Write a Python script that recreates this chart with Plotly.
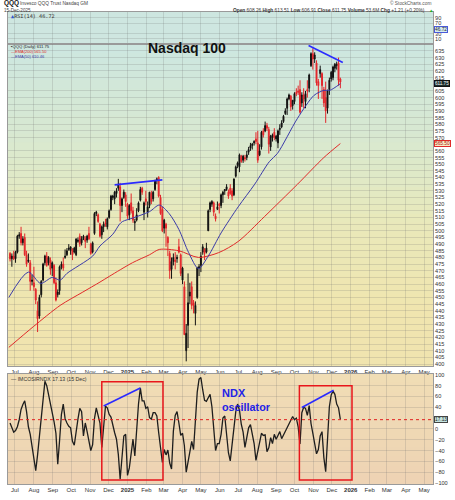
import plotly.graph_objects as go
import pandas as pd

# ---------------- data ----------------
# one bar per 3 calendar days, ending 2025-12-15
OPEN = [483, 479, 481,
        479, 484, 496, 498, 491, 495, 482, 477, 476, 462,
        461, 456, 440, 436, 452, 463, 476, 481, 476, 478, 472,
        474, 461, 452, 455, 473, 475, 480, 482, 486, 485,
        486, 484, 482, 492, 496, 491, 494, 494, 493, 498,
        490, 484, 498, 513, 512, 505, 497, 503, 506, 503,
        510, 516, 525, 524, 528, 532, 533, 519, 525, 527,
        520, 512, 521, 515, 506, 508, 515, 523, 532, 514, 524,
        514, 519, 528, 524, 531, 538, 540, 525, 516,
        502, 505, 495, 483, 471, 477, 478, 479, 488, 482,
        463, 458, 410, 429, 451, 458, 446, 438, 450, 472,
        474, 484, 486, 484, 500, 516, 520, 521, 511, 516, 520,
        519, 527, 530, 531, 529, 532, 530, 527, 541, 549,
        548, 556, 553, 555, 555, 559, 562, 564, 566, 569,
        566, 557, 563, 575, 575, 579, 576, 563, 570, 574,
        569, 566, 576, 578, 582, 588, 592, 599, 601, 594,
        597, 604, 605, 606, 596, 602, 597, 606, 607, 624, 633,
        629, 626, 612, 618, 618, 606, 600, 592, 606, 614,
        615, 622, 624, 626, 614]
HIGH = [484, 483, 485,
        485, 497, 499, 503, 496, 498, 485, 483, 478, 467,
        473, 457, 447, 452, 463, 476, 482, 484, 481, 480, 477,
        475, 465, 456, 474, 477, 480, 486, 487, 490, 488,
        487, 488, 494, 495, 498, 496, 497, 496, 497, 503,
        491, 492, 514, 515, 513, 506, 504, 507, 509, 510,
        516, 527, 527, 530, 532, 539, 536, 525, 531, 529,
        521, 520, 528, 518, 509, 517, 522, 533, 533, 522, 530,
        522, 529, 530, 530, 538, 540, 541, 527, 518,
        509, 506, 496, 485, 480, 483, 484, 482, 494, 483,
        473, 462, 430, 468, 461, 462, 448, 447, 473, 475,
        484, 490, 487, 491, 516, 522, 523, 522, 513, 522, 521,
        528, 530, 531, 535, 531, 535, 532, 539, 549, 552,
        558, 557, 557, 557, 560, 563, 566, 566, 568, 574,
        575, 565, 575, 577, 582, 581, 578, 572, 573, 577,
        572, 576, 580, 583, 587, 592, 600, 603, 602, 598,
        604, 607, 609, 613, 604, 607, 605, 613, 618, 634, 637,
        634, 628, 614, 624, 619, 608, 612, 606, 615, 620,
        624, 626, 627, 630, 615]
LOW = [477, 473, 478,
       476, 483, 494, 489, 489, 481, 473, 476, 455, 459,
       455, 445, 424, 434, 450, 462, 474, 473, 474, 467, 466,
       460, 447, 450, 452, 471, 470, 479, 481, 485, 482,
       478, 483, 481, 491, 488, 489, 493, 487, 491, 493,
       482, 483, 497, 511, 506, 495, 494, 499, 503, 501,
       509, 515, 523, 520, 525, 530, 507, 514, 524, 518,
       509, 508, 513, 506, 500, 507, 514, 522, 527, 508, 519,
       510, 517, 520, 522, 530, 535, 525, 512, 499,
       498, 488, 481, 464, 464, 474, 471, 476, 483, 466,
       460, 422, 402, 412, 445, 441, 438, 429, 449, 466,
       469, 482, 478, 483, 500, 514, 518, 511, 507, 516, 513,
       517, 521, 527, 530, 524, 527, 523, 526, 540, 547,
       544, 551, 551, 552, 553, 557, 560, 561, 564, 565,
       551, 556, 561, 570, 574, 575, 558, 560, 567, 568,
       567, 562, 572, 577, 581, 587, 587, 598, 590, 591,
       595, 601, 602, 588, 593, 592, 592, 600, 604, 623, 621,
       626, 609, 599, 615, 599, 593, 581, 588, 602, 612,
       613, 619, 621, 609, 607]
CLOSE = [479, 481, 479,
         484, 496, 497, 491, 494, 482, 475, 478, 462, 463,
         458, 448, 434, 450, 462, 475, 481, 474, 480, 471, 476,
         461, 448, 454, 473, 475, 472, 481, 485, 487, 488,
         482, 487, 494, 493, 490, 494, 496, 492, 496, 494,
         483, 491, 513, 514, 507, 496, 503, 505, 505, 509,
         515, 526, 526, 529, 530, 535, 519, 524, 529, 522,
         511, 519, 515, 508, 507, 512, 521, 531, 529, 521, 522,
         518, 529, 522, 529, 538, 539, 526, 513, 500,
         508, 502, 491, 470, 477, 480, 477, 480, 484, 468,
         472, 422, 423, 446, 454, 444, 444, 444, 472, 473,
         481, 488, 483, 487, 515, 521, 522, 514, 509, 518, 519,
         527, 529, 531, 533, 526, 528, 526, 539, 548, 551,
         557, 552, 556, 554, 557, 561, 564, 565, 567, 567,
         553, 560, 574, 572, 579, 577, 565, 571, 572, 570,
         571, 575, 577, 581, 586, 590, 599, 602, 593, 598,
         603, 603, 604, 589, 602, 599, 603, 605, 617, 633, 629,
         632, 611, 609, 621, 609, 596, 590, 605, 613, 619,
         623, 625, 625, 613, 611.75]
OSC = [11, 4, -6,
       -3, 4, 17, 36, 45, 52, 32, 4, -10, -33,
       -50, -77, -48, -14, 17, 47, 88, 80, 63, 47, 35,
       13, -8, -65, -21, 27, 46, 19, 11, 5, 2,
       -23, -30, -1, 18, 38, 32, -13, 11, -5, -23,
       -40, -29, 19, 39, 25, 11, -34, 11, 42, 39,
       27, 22, 5, -7, -19, -47, -93, -55, -13, -10,
       -86, -72, -44, -19, -50, 8, 46, 76, 52, 52, 38,
       41, 21, 18, 30, 30, 24, -7, -34, -62,
       -38, -48, -39, -63, -74, -4, 25, 32, 11, -12,
       -8, -31, -80, -62, -42, -23, -38, 11, 68, 92,
       95, 72, 53, 51, 58, 64, 41, -4, -40, -27, -27,
       -10, 20, 24, -15, -44, -59, -29, 7, 32, 46,
       35, 9, -6, -34, -12, 2, 8, -7, -27, -58,
       -42, -20, -8, -12, -11, -42, -35, -16, -27, -10,
       -19, -12, -5, -18, -11, -4, 3, 10, 16, 23,
       17, 20, 4, -28, 30, 40, 38, 25, 43, 10, -8,
       -30, -46, -38, -13, -5, -53, -79, -11, 41, 63,
       70, 64, 46, 39, 17.13]

EMA50_DATES = ["2024-06-21", "2024-07-23", "2024-08-12", "2024-08-31", "2024-09-13",
               "2024-09-24", "2024-11-05", "2024-11-17", "2024-12-08", "2024-12-19",
               "2024-12-24", "2025-01-09", "2025-02-06", "2025-02-22", "2025-03-10",
               "2025-03-26", "2025-04-11", "2025-04-27", "2025-05-13", "2025-06-03",
               "2025-07-01", "2025-07-28", "2025-08-21", "2025-09-03", "2025-10-06",
               "2025-11-02", "2025-11-18", "2025-11-28", "2025-12-15"]
EMA50_VALUES = [450, 469, 460.5, 465, 463, 468, 481, 488.6, 497.4, 505, 507, 509.5,
                514.4, 519.3, 513, 501, 483.6, 471.6, 481, 498.4, 518, 535, 552, 558,
                584.5, 601.7, 605.4, 605.5, 610.46]
EMA200_DATES = ["2024-06-21", "2024-07-31", "2024-09-13", "2024-10-20", "2024-11-17",
                "2024-12-03", "2025-01-09", "2025-02-06", "2025-02-22", "2025-03-26",
                "2025-04-27", "2025-05-30", "2025-07-01", "2025-08-13", "2025-10-06",
                "2025-11-18", "2025-12-15"]
EMA200_VALUES = [412.5, 428, 444, 454, 461.5, 466, 476, 482, 486, 485, 480, 483.6,
                 492, 510.7, 535, 555, 565.5]

MONTH_TICKS = ["2024-07-01", "2024-08-01", "2024-09-01", "2024-10-01", "2024-11-01",
               "2024-12-01", "2025-01-01", "2025-02-01", "2025-03-01", "2025-04-01",
               "2025-05-01", "2025-06-01", "2025-07-01", "2025-08-01", "2025-09-01",
               "2025-10-01", "2025-11-01", "2025-12-01", "2026-01-01", "2026-02-01",
               "2026-03-01", "2026-04-01", "2026-05-01"]
MONTH_LABELS = ["Jul", "Aug", "Sep", "Oct", "Nov", "Dec", "<b>2025</b>", "Feb", "Mar",
                "Apr", "May", "Jun", "Jul", "Aug", "Sep", "Oct", "Nov", "Dec",
                "<b>2026</b>", "Feb", "Mar", "Apr", "May"]
PRICE_TICKS = [400, 405, 410, 415, 420, 425, 430, 435, 440, 445, 450, 455, 460, 465,
               470, 475, 480, 485, 490, 495, 500, 505, 510, 515, 520, 525, 530, 535,
               540, 545, 550, 555, 560, 570, 575, 580, 585, 590, 595, 600, 605,
               615, 620, 625, 630, 635]
OSC_TICKS = [-100, -80, -60, -40, -20, 0, 40, 60, 80, 100]
RSI_TICKS = [10, 30, 70, 90]

LAST_CLOSE = 611.75
LAST_EMA200 = 565.50
LAST_EMA50 = 610.46
LAST_RSI = 46.72
LAST_OSC = 17.13

# trend lines / boxes drawn by the analyst
PRICE_LINES = [(("2024-12-11", 534.5), ("2025-02-27", 538.2)),
               (("2025-10-24", 639.1), ("2025-12-19", 626.3))]
OSC_LINES = [(("2024-11-23", 42.4), ("2025-01-22", 75.8)),
             (("2025-10-13", 39.5), ("2025-12-04", 71.5))]
OSC_BOXES = [(("2024-11-20", 87.3), ("2025-02-28", -94.5)),
             (("2025-10-09", 80.0), ("2026-01-03", -94.5))]

# ---------------- geometry helpers ----------------
W, H = 455, 500
ML, MR, MT, MB = 7, 18, 12, 8
PW, PH = W - ML - MR, H - MT - MB


def fx(px):
    return (px - ML) / PW


def fy(py):
    return (H - MB - py) / PH


FONT = "Liberation Sans, Arial, sans-serif"
GRID = "rgba(110,110,110,0.20)"
BORDER = "#9a9a9a"
XR = ["2024-06-19 16:00", "2026-05-15 10:00"]

dates = pd.date_range(end="2025-12-15", periods=len(CLOSE), freq="3D")

fig = go.Figure()
fig.add_trace(go.Scatter(x=[dates[0]], y=[None], xaxis="x", yaxis="y",
                         showlegend=False, hoverinfo="skip"))
fig.add_trace(go.Candlestick(
    x=dates, open=OPEN, high=HIGH, low=LOW, close=CLOSE, xaxis="x2", yaxis="y2",
    increasing=dict(line=dict(color="#111111", width=1), fillcolor="#111111"),
    decreasing=dict(line=dict(color="#e3262b", width=1), fillcolor="#e3262b"),
    whiskerwidth=0, showlegend=False, hoverinfo="skip"))
fig.add_trace(go.Scatter(x=EMA200_DATES, y=EMA200_VALUES, xaxis="x2", yaxis="y2",
                         mode="lines", line=dict(color="#e02a2a", width=1, shape="spline", smoothing=0.8),
                         showlegend=False, hoverinfo="skip"))
fig.add_trace(go.Scatter(x=EMA50_DATES, y=EMA50_VALUES, xaxis="x2", yaxis="y2",
                         mode="lines", line=dict(color="#3a3aa8", width=1, shape="spline", smoothing=0.8),
                         showlegend=False, hoverinfo="skip"))
fig.add_trace(go.Scatter(x=dates, y=OSC, xaxis="x3", yaxis="y3", mode="lines",
                         line=dict(color="#1e1e1e", width=1.3),
                         showlegend=False, hoverinfo="skip"))

tickfont = dict(size=5.6, color="#333333", family=FONT)
common_x = dict(type="date", range=XR, tickmode="array", tickvals=MONTH_TICKS,
                ticktext=MONTH_LABELS, showgrid=True, gridcolor=GRID, gridwidth=1,
                ticks="", showline=True, linecolor=BORDER, linewidth=1, mirror=True,
                tickfont=dict(size=6, color="#333333", family=FONT), zeroline=False,
                fixedrange=True, domain=[0, 1])
common_y = dict(side="right", showgrid=True, gridcolor=GRID, gridwidth=1, ticks="",
                showline=True, linecolor=BORDER, linewidth=1, mirror=True,
                tickfont=tickfont, zeroline=False, fixedrange=True, tickmode="array")

fig.update_layout(
    width=W, height=H,
    margin=dict(l=ML, r=MR, t=MT, b=MB, pad=0),
    paper_bgcolor="white", plot_bgcolor="rgba(0,0,0,0)",
    showlegend=False,
    font=dict(family=FONT, size=6, color="#333"),
    xaxis=dict(common_x, anchor="y", showticklabels=False),
    xaxis2=dict(common_x, anchor="y2", showticklabels=True, rangeslider=dict(visible=False)),
    xaxis3=dict(common_x, anchor="y3", showticklabels=True),
    yaxis=dict(common_y, anchor="x", domain=[fy(45), fy(12)], range=[-11, 112],
               tickvals=RSI_TICKS),
    yaxis2=dict(common_y, anchor="x2", domain=[fy(372), fy(45)], range=[398.5, 639.9],
                tickvals=PRICE_TICKS),
    yaxis3=dict(common_y, anchor="x3", domain=[fy(492), fy(380)], range=[-101.8, 101.8],
                tickvals=OSC_TICKS),
)


# ---------------- gradient backgrounds ----------------
def hex2rgb(h):
    h = h.lstrip("#")
    return tuple(int(h[i:i + 2], 16) for i in (0, 2, 4))


def interp(stops, t):
    for (t0, c0), (t1, c1) in zip(stops[:-1], stops[1:]):
        if t0 <= t <= t1:
            a = (t - t0) / (t1 - t0) if t1 > t0 else 0
            r0, g0, b0 = hex2rgb(c0)
            r1, g1, b1 = hex2rgb(c1)
            return "rgb(%d,%d,%d)" % (r0 + (r1 - r0) * a, g0 + (g1 - g0) * a, b0 + (b1 - b0) * a)
    return stops[-1][1]


shapes = []


def gradient(top, bottom, stops, n=36):
    step = (bottom - top) / n
    for i in range(n):
        t = (i + 0.5) / n
        shapes.append(dict(type="rect", xref="paper", yref="paper", x0=0, x1=1,
                           y0=fy(top + i * step - 0.4), y1=fy(top + (i + 1) * step + 0.4),
                           fillcolor=interp(stops, t), line=dict(width=0), layer="below"))


gradient(12, 45, [(0, "#cde6e1"), (1, "#d0e7e0")], n=4)
gradient(45, 372, [(0, "#cde7e1"), (0.3, "#d9e9d0"), (0.55, "#e9e9bb"), (0.8, "#f0e6b0"), (1, "#f1e4af")])
gradient(380, 492, [(0, "#f1deb6"), (1, "#eed3b4")], n=12)

# dotted red line at last oscillator value
shapes.append(dict(type="line", xref="paper", yref="y3", x0=0, x1=1, y0=LAST_OSC, y1=LAST_OSC,
                   line=dict(color="#e02020", width=1, dash="dot")))
for (a, b) in PRICE_LINES:
    shapes.append(dict(type="line", xref="x2", yref="y2", x0=a[0], y0=a[1], x1=b[0], y1=b[1],
                       line=dict(color="#2b2bff", width=1.6)))
for (a, b) in OSC_LINES:
    shapes.append(dict(type="line", xref="x3", yref="y3", x0=a[0], y0=a[1], x1=b[0], y1=b[1],
                       line=dict(color="#2b2bff", width=1.6)))
for (a, b) in OSC_BOXES:
    shapes.append(dict(type="rect", xref="x3", yref="y3", x0=a[0], y0=a[1], x1=b[0], y1=b[1],
                       line=dict(color="#e8161b", width=1.5), fillcolor="rgba(0,0,0,0)"))
fig.update_layout(shapes=shapes)

# ---------------- texts ----------------
ann = []


def text(px, py, s, size=6, color="#222", xanchor="left", bold=False, family=FONT, **kw):
    ann.append(dict(x=fx(px), y=fy(py), xref="paper", yref="paper", text=("<b>%s</b>" % s) if bold else s,
                    showarrow=False, xanchor=xanchor, yanchor="middle",
                    font=dict(size=size, color=color, family=family), **kw))


text(1, 3.2, "QQQ", size=6.5, bold=True, color="#111")
text(17, 3.2, "Invesco QQQ Trust Nasdaq GM", size=4.8, color="#444")
text(1, 10.2, "15-Dec-2025", size=4.6, color="#444")
text(437, 3.2, "\u00a9 StockCharts.com", size=4.8, color="#555", xanchor="right")
text(431, 10.2, "<b>Open</b> 608.26 <b>High</b> 613.51 <b>Low</b> 606.91 <b>Close</b> 611.75 "
                "<b>Volume</b> 53.6M <b>Chg</b> +1.21 (+0.20%)", size=4.8, color="#333", xanchor="right")
text(431, 10.2, "\u25b2", size=4.5, color="#22aa22", xanchor="left")

text(8, 16, "<span style='color:#3355cc'>\u25b2</span>RSI(14) 46.72", size=5.2, color="#333",
     family="DejaVu Sans Mono, monospace")
text(8, 47.5, "\u25aaQQQ (Daily) 611.75", size=4.2, color="#222")
text(8, 52.3, "\u2014EMA(200) 565.50", size=4.0, color="#e02a2a")
text(8, 57.1, "\u2014EMA(50) 610.46", size=4.0, color="#3a3aa8")
text(8, 385, "\u2014 IMCOSIRNDX 17.13 (15 Dec)", size=5.2, color="#333")

text(188, 48.5, "Nasdaq 100", size=14, bold=True, color="#111", xanchor="center")
text(223, 399.8, "NDX", size=11, bold=True, color="#2323e6", borderpad=0)
text(223, 414.2, "oscillator", size=10.8, bold=True, color="#2323e6", borderpad=0)


def value_box(val, yref, label, bg, border, color, size=6, yshift=0):
    ann.append(dict(x=1, xref="paper", y=val, yref=yref, text=label, showarrow=False,
                    xanchor="left", yanchor="middle", xshift=1, yshift=yshift,
                    font=dict(size=size, color=color, family=FONT),
                    bgcolor=bg, bordercolor=border, borderwidth=1, borderpad=0))


value_box(LAST_RSI, "y", "46.72", "#d6ecef", "#4a5ad8", "#223", size=4.8)
value_box(LAST_EMA200, "y2", "565.50", "#f5ebc3", "#e02a2a", "#b01010", size=4.8)
value_box(LAST_CLOSE, "y2", "611.75", "#1b2e2e", "#111", "#ffffff", size=4.6, yshift=-1.4)
value_box(LAST_OSC, "y3", "17.13", "#c4e3df", "#444", "#222", size=4.8)

fig.update_layout(annotations=ann)

fig.write_html("out.html")
